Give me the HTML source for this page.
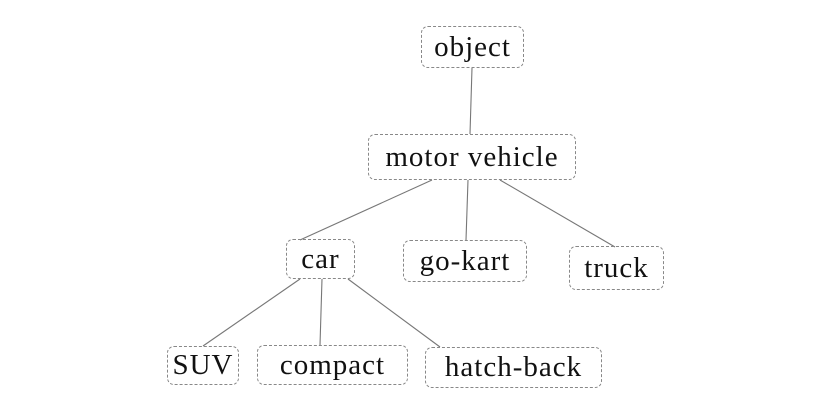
<!DOCTYPE html>
<html><head><style>
body{margin:0;background:#fff;width:833px;height:408px;overflow:hidden;position:relative;font-family:"Liberation Serif",serif;}
.b{position:absolute;border:1.2px dashed #888;border-radius:7px;box-sizing:border-box;display:flex;align-items:center;justify-content:center;font-size:29px;letter-spacing:1px;color:#111;white-space:nowrap;}
svg{position:absolute;left:0;top:0;}
</style></head><body>
<svg width="833" height="408"><g stroke="#777" stroke-width="1.1" fill="none">
<line x1="472" y1="68" x2="470" y2="134"/>
<line x1="432" y1="180" x2="300" y2="240"/>
<line x1="468" y1="180" x2="466" y2="240"/>
<line x1="500" y1="180" x2="615" y2="247"/>
<line x1="300" y1="279" x2="203" y2="346"/>
<line x1="322" y1="279" x2="320" y2="345"/>
<line x1="348" y1="279" x2="440" y2="347"/>
</g></svg>
<div class="b" style="left:421px;top:26px;width:103px;height:42px">object</div>
<div class="b" style="left:368px;top:134px;width:208px;height:46px">motor vehicle</div>
<div class="b" style="left:286px;top:239px;width:69px;height:40px">car</div>
<div class="b" style="left:403px;top:240px;width:124px;height:42px">go-kart</div>
<div class="b" style="left:569px;top:246px;width:95px;height:44px">truck</div>
<div class="b" style="left:167px;top:346px;width:72px;height:39px">SUV</div>
<div class="b" style="left:257px;top:345px;width:151px;height:40px">compact</div>
<div class="b" style="left:425px;top:347px;width:177px;height:41px">hatch-back</div>
</body></html>
